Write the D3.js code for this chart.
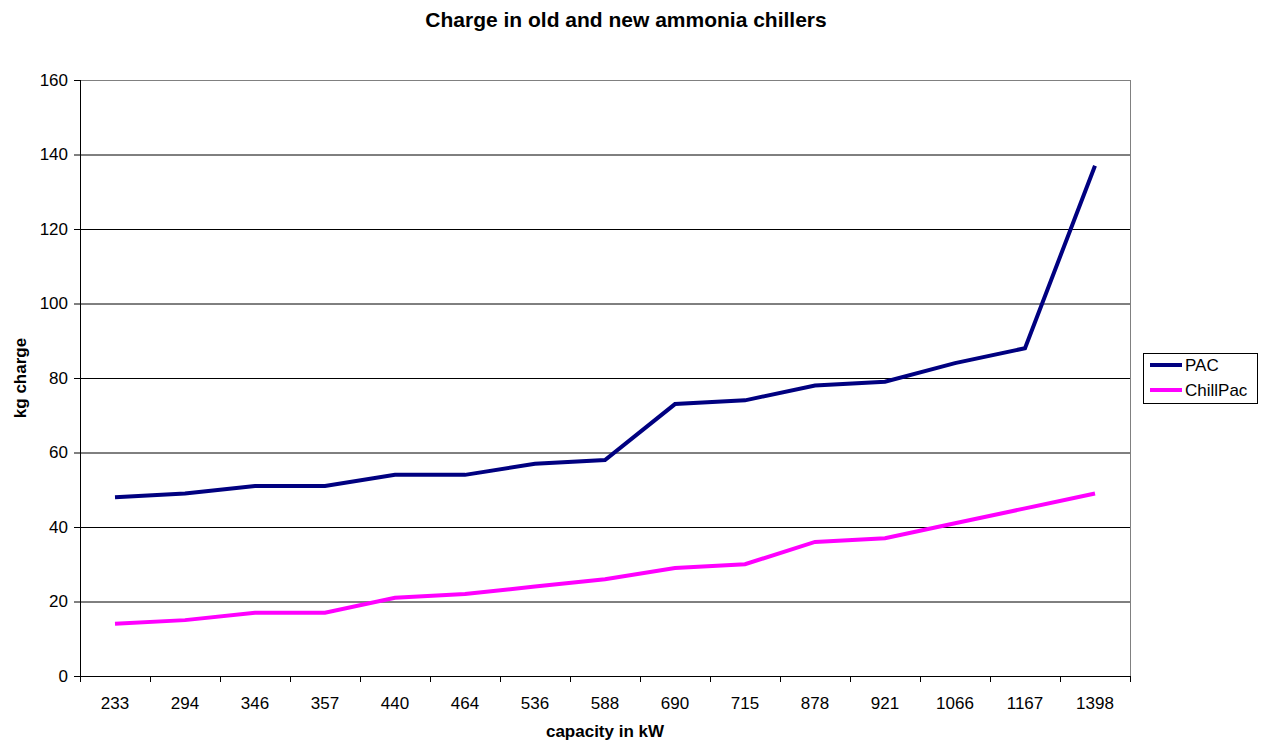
<!DOCTYPE html>
<html>
<head>
<meta charset="utf-8">
<script src="https://cdn.jsdelivr.net/npm/d3@7"></script>
<style>
  body { margin: 0; background: #fff; }
  text { font-family: "Liberation Sans", Arial, sans-serif; }
</style>
</head>
<body>
<div id="chart"></div>
<script>
const capacities = ["233", "294", "346", "357", "440", "464", "536", "588", "690", "715", "878", "921", "1066", "1167", "1398"];
const pacCharge = [48, 49, 51, 51, 54, 54, 57, 58, 73, 74, 78, 79, 84, 88, 137];
const chillPacCharge = [14, 15, 17, 17, 21, 22, 24, 26, 29, 30, 36, 37, 41, 45, 49];
const yTicks = [0, 20, 40, 60, 80, 100, 120, 140, 160];
const seriesNames = ["PAC", "ChillPac"];
const seriesColors = ["#000080", "#ff00ff"];

const width = 1261, height = 742;
const plot = { left: 80, right: 1130, top: 80, bottom: 676 };

const svg = d3.select("#chart").append("svg")
  .attr("width", width)
  .attr("height", height);

const x = d3.scaleBand().domain(capacities).range([plot.left, plot.right]);
const y = d3.scaleLinear().domain([0, 160]).range([plot.bottom, plot.top]);

// gridlines
svg.append("g")
  .selectAll("line")
  .data(yTicks.slice(1))
  .enter()
  .append("line")
  .attr("x1", plot.left)
  .attr("x2", plot.right)
  .attr("y1", d => y(d) + 0.5)
  .attr("y2", d => y(d) + 0.5)
  .attr("stroke", d => d === 160 ? "#808080" : "#000")
  .attr("stroke-width", 1);

// right border of plot
svg.append("line")
  .attr("x1", plot.right + 0.5).attr("x2", plot.right + 0.5)
  .attr("y1", plot.top).attr("y2", plot.bottom)
  .attr("stroke", "#808080");

// y axis
const yAxis = svg.append("g")
  .attr("transform", `translate(${plot.left},0)`)
  .call(d3.axisLeft(y).tickValues(yTicks).tickSize(6).tickPadding(6));
yAxis.selectAll("text").attr("font-size", 17).attr("fill", "#000")
  .style("font-family", "'Liberation Sans', Arial, sans-serif");
yAxis.selectAll("line, path").attr("stroke", "#000");
yAxis.select(".domain").attr("d", `M0.5,${plot.top}V${plot.bottom}`);

// x axis
const xAxis = svg.append("g")
  .attr("transform", `translate(0,${plot.bottom})`)
  .call(d3.axisBottom(x).tickSize(0).tickPadding(21));
xAxis.selectAll("text").attr("font-size", 17).attr("fill", "#000")
  .style("font-family", "'Liberation Sans', Arial, sans-serif");
xAxis.select(".domain").attr("stroke", "#000").attr("d", `M${plot.left},0.5H${plot.right}`);

// x ticks at category boundaries
svg.append("g")
  .selectAll("line")
  .data(capacities.concat(["end"]))
  .enter()
  .append("line")
  .attr("x1", (d, i) => (i < capacities.length ? x(d) : x.range()[1]) + 0.5)
  .attr("x2", (d, i) => (i < capacities.length ? x(d) : x.range()[1]) + 0.5)
  .attr("y1", plot.bottom)
  .attr("y2", plot.bottom + 6)
  .attr("stroke", "#000");

// lines
const line = d3.line()
  .x((d, i) => x(capacities[i]) + x.bandwidth() / 2)
  .y(d => y(d));

[pacCharge, chillPacCharge].forEach((series, k) => {
  svg.append("path")
    .datum(series)
    .attr("fill", "none")
    .attr("stroke", seriesColors[k])
    .attr("stroke-width", 4)
    .attr("stroke-linejoin", "miter")
    .attr("d", line);
});

// title
svg.append("text")
  .attr("x", 626)
  .attr("y", 27)
  .attr("text-anchor", "middle")
  .attr("font-size", 21)
  .attr("font-weight", "bold")
  .text("Charge in old and new ammonia chillers");

// axis titles
svg.append("text")
  .attr("x", (plot.left + plot.right) / 2)
  .attr("y", 737)
  .attr("text-anchor", "middle")
  .attr("font-size", 17)
  .attr("font-weight", "bold")
  .text("capacity in kW");

svg.append("text")
  .attr("transform", `translate(26,378) rotate(-90)`)
  .attr("text-anchor", "middle")
  .attr("font-size", 17)
  .attr("font-weight", "bold")
  .text("kg charge");

// legend
const legend = svg.append("g").attr("transform", "translate(1143,353)");
legend.append("rect")
  .attr("x", 0.5).attr("y", 0.5)
  .attr("width", 114).attr("height", 50)
  .attr("fill", "#fff").attr("stroke", "#000");

const items = legend.selectAll("g.item")
  .data(seriesNames)
  .enter()
  .append("g")
  .attr("class", "item")
  .attr("transform", (d, i) => `translate(0,${12 + i * 25})`);
items.append("line")
  .attr("x1", 7).attr("x2", 39)
  .attr("y1", 0).attr("y2", 0)
  .attr("stroke", (d, i) => seriesColors[i])
  .attr("stroke-width", 4);
items.append("text")
  .attr("x", 42)
  .attr("y", 6)
  .attr("font-size", 17)
  .text(d => d);
</script>
</body>
</html>
